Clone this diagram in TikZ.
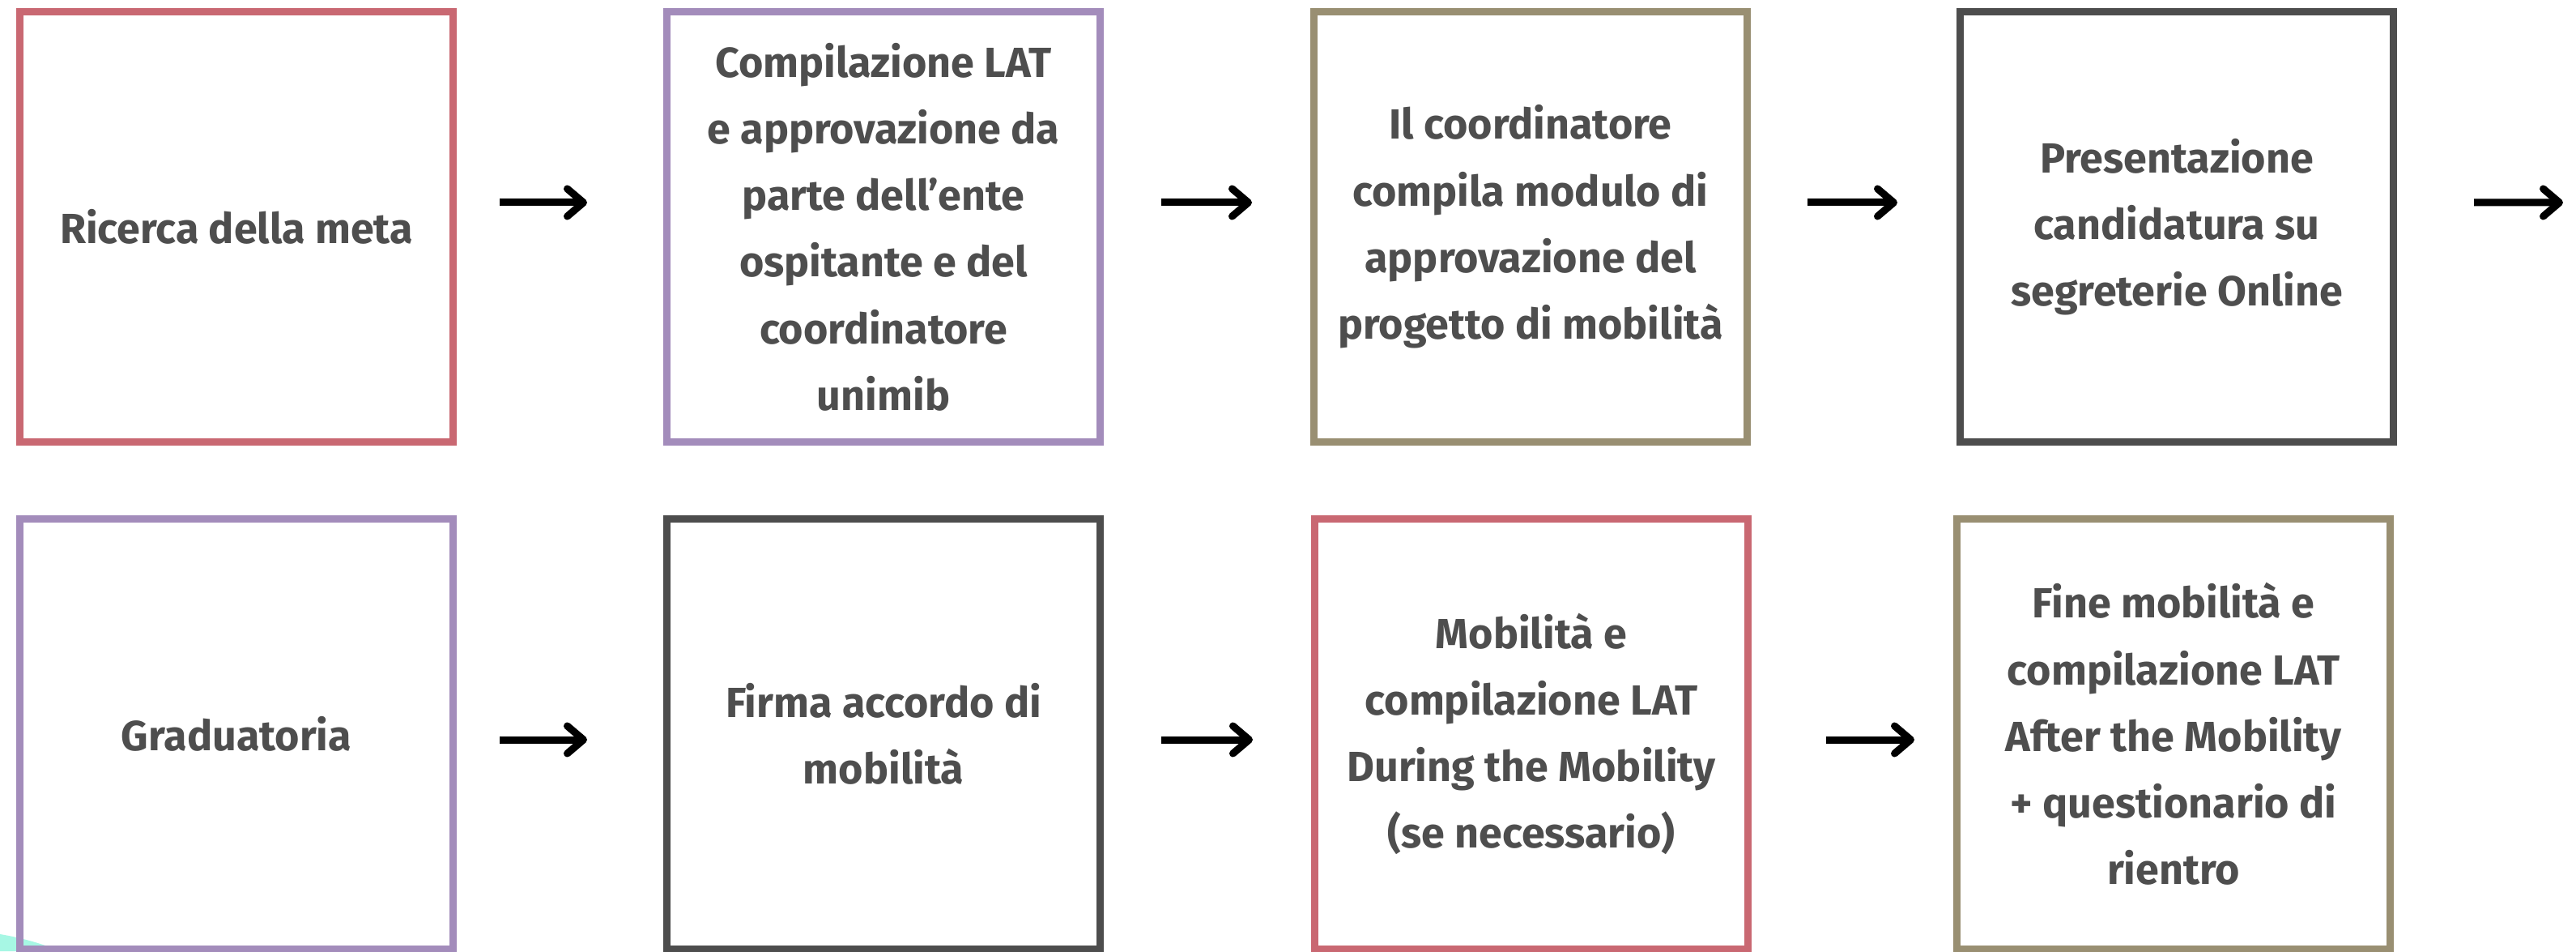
\documentclass[tikz,border=0pt]{standalone}
\usepackage{fontspec}
\setmainfont{Fira Sans}
\usetikzlibrary{arrows.meta}
\definecolor{rosso}{HTML}{C96872}
\definecolor{viola}{HTML}{A38CBB}
\definecolor{kaki}{HTML}{998F72}
\definecolor{grigio}{HTML}{4D4D4D}
\definecolor{testo}{HTML}{4E4E4E}
\definecolor{acqua}{HTML}{A7F7E4}
\tikzset{
  st/.style={rectangle, minimum width=5.35cm, minimum height=5.31cm, line width=0.09cm, outer sep=0.045cm, inner sep=0pt, align=center, text=testo, font=\fontsize{14.8}{23.4}\selectfont\bfseries},
  rs/.style={st, draw=rosso},
  vl/.style={st, draw=viola},
  kh/.style={st, draw=kaki},
  gr/.style={st, draw=grigio},
  fr/.style={line width=0.09cm, -{Straight Barb[length=0.2cm, width=0.34cm, round]}}
}

\begin{document}
\begin{tikzpicture}
	\useasboundingbox (0,0) rectangle (31.81,11.74);
	\fill[acqua] (0,0) -- (0,0.21) .. controls (0.3,0.16) and (0.55,0.08) .. (0.75,0) -- cycle;
	% prima riga
	\node[rs] (ricerca) at (2.92,8.94) {Ricerca della meta};
	\node[vl] (lat) at (10.91,8.94) {Compilazione LAT\\e approvazione da\\parte dell’ente\\ospitante e del\\coordinatore\\unimib};
	\node[kh] (modulo) at (18.90,8.94) {Il coordinatore\\compila modulo di\\approvazione del\\progetto di mobilità};
	\node[gr] (candidatura) at (26.88,8.94) {Presentazione\\candidatura su\\segreterie Online};
	\coordinate (oltre) at (31.65,9.24);
	% seconda riga
	\node[vl] (graduatoria) at (2.92,2.68) {Graduatoria};
	\node[gr] (firma) at (10.91,2.68) {Firma accordo di\\mobilità};
	\node[rs] (mobilita) at (18.91,2.68) {Mobilità e\\compilazione LAT\\During the Mobility\\(se necessario)};
	\node[kh] (fine) at (26.84,2.68) {Fine mobilità e\\compilazione LAT\\After the Mobility\\+ questionario di\\rientro};
	% frecce
	\draw[fr, shorten <=0.53cm, shorten >=0.94cm] ([yshift=0.3cm]ricerca.east) -- ([yshift=0.3cm]lat.west);
	\draw[fr, shorten <=0.71cm, shorten >=0.72cm] ([yshift=0.3cm]lat.east) -- ([yshift=0.3cm]modulo.west);
	\draw[fr, shorten <=0.70cm, shorten >=0.73cm] ([yshift=0.3cm]modulo.east) -- ([yshift=0.3cm]candidatura.west);
	\draw[fr, shorten <=0.95cm] ([yshift=0.3cm]candidatura.east) -- (oltre);
	\draw[fr, shorten <=0.53cm, shorten >=0.94cm] ([yshift=-0.07cm]graduatoria.east) -- ([yshift=-0.07cm]firma.west);
	\draw[fr, shorten <=0.71cm, shorten >=0.72cm] ([yshift=-0.07cm]firma.east) -- ([yshift=-0.07cm]mobilita.west);
	\draw[fr, shorten <=0.92cm, shorten >=0.48cm] ([yshift=-0.07cm]mobilita.east) -- ([yshift=-0.07cm]fine.west);
\end{tikzpicture}
\end{document}
